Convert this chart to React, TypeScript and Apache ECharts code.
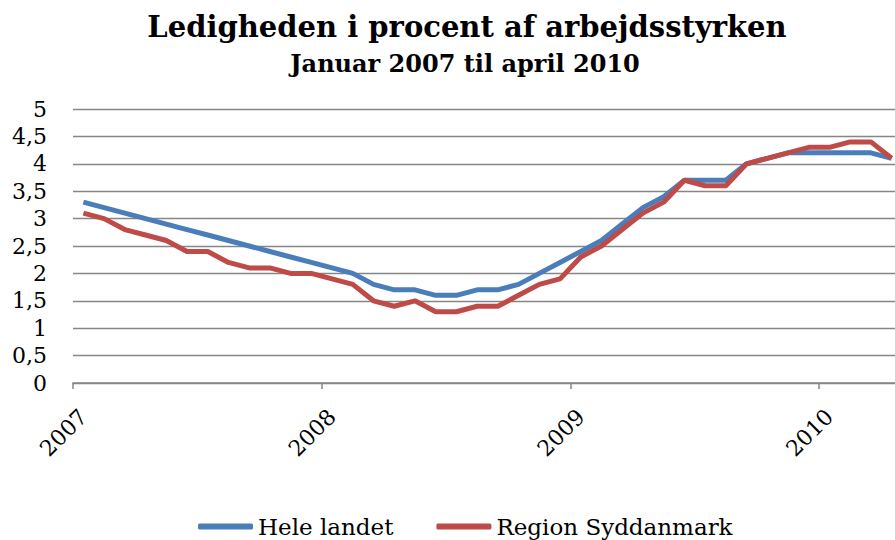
import React, { useEffect, useRef } from "react";
import * as echarts from "echarts";

const years = ["2007", "2008", "2009", "2010"];
const monthsPerYear = ["01", "02", "03", "04", "05", "06", "07", "08", "09", "10", "11", "12"];
const lastMonthIndex = 3; // April 2010

const categories: string[] = [];
years.forEach((y, yi) => {
  monthsPerYear.forEach((m, mi) => {
    if (yi < years.length - 1 || mi <= lastMonthIndex) categories.push(`${y}-${m}`);
  });
});

const heleLandet = [
  3.3, 3.2, 3.1, 3.0, 2.9, 2.8, 2.7, 2.6, 2.5, 2.4, 2.3, 2.2,
  2.1, 2.0, 1.8, 1.7, 1.7, 1.6, 1.6, 1.7, 1.7, 1.8, 2.0, 2.2,
  2.4, 2.6, 2.9, 3.2, 3.4, 3.7, 3.7, 3.7, 4.0, 4.1, 4.2, 4.2,
  4.2, 4.2, 4.2, 4.1,
];

const regionSyddanmark = [
  3.1, 3.0, 2.8, 2.7, 2.6, 2.4, 2.4, 2.2, 2.1, 2.1, 2.0, 2.0,
  1.9, 1.8, 1.5, 1.4, 1.5, 1.3, 1.3, 1.4, 1.4, 1.6, 1.8, 1.9,
  2.3, 2.5, 2.8, 3.1, 3.3, 3.7, 3.6, 3.6, 4.0, 4.1, 4.2, 4.3,
  4.3, 4.4, 4.4, 4.1,
];

const titleText = "Ledigheden i procent af arbejdsstyrken";
const subtitleText = "Januar 2007 til april 2010";
const seriesNames = ["Hele landet", "Region Syddanmark"];

const FONT = "'DejaVu Serif', Georgia, serif";

export default function App() {
  const ref = useRef<HTMLDivElement>(null);

  useEffect(() => {
    if (!ref.current) return;
    const chart = echarts.init(ref.current, undefined, { renderer: "svg" });
    chart.setOption({
      animation: false,
      backgroundColor: "#ffffff",
      title: [
        {
          text: titleText,
          left: 462,
          top: 7,
          textAlign: "center",
          textStyle: { fontFamily: FONT, fontWeight: "bold", fontSize: 29, color: "#000" },
        },
        {
          text: subtitleText,
          left: 460,
          top: 46,
          textAlign: "center",
          textStyle: { fontFamily: FONT, fontWeight: "bold", fontSize: 24, color: "#000" },
        },
      ],
      legend: {
        data: seriesNames,
        left: 193,
        top: 510,
        icon: "roundRect",
        itemWidth: 55,
        itemHeight: 6,
        itemGap: 43,
        textStyle: { fontFamily: FONT, fontSize: 23, color: "#000" },
      },
      grid: { left: 73, right: 0, top: 109, bottom: 157, containLabel: false },
      xAxis: {
        type: "category",
        data: categories,
        boundaryGap: true,
        axisLine: { lineStyle: { color: "#868686", width: 1.5 } },
        axisTick: {
          show: true,
          length: 6,
          interval: (i: number) => i % 12 === 0,
          lineStyle: { color: "#868686", width: 1.5 },
        },
        axisLabel: {
          interval: (i: number) => i % 12 === 0,
          formatter: (v: string) => v.split("-")[0],
          rotate: 45,
          margin: 30,
          fontFamily: FONT,
          fontSize: 22,
          color: "#000",
        },
        splitLine: { show: false },
      },
      yAxis: {
        type: "value",
        min: 0,
        max: 5,
        interval: 0.5,
        axisLine: { show: false },
        axisTick: { show: false },
        axisLabel: {
          margin: 26,
          fontFamily: FONT,
          fontSize: 22,
          color: "#000",
          formatter: (v: number) => String(v).replace(".", ","),
        },
        splitLine: { lineStyle: { color: "#868686", width: 1.3 } },
      },
      series: [
        {
          name: seriesNames[0],
          type: "line",
          data: heleLandet,
          symbol: "none",
          color: "#4A7EBB",
          lineStyle: { width: 5, color: "#4A7EBB" },
        },
        {
          name: seriesNames[1],
          type: "line",
          data: regionSyddanmark,
          symbol: "none",
          color: "#BE4B48",
          lineStyle: { width: 5, color: "#BE4B48" },
        },
      ],
    });
    return () => chart.dispose();
  }, []);

  return (
    <div
      style={{
        position: "fixed",
        left: 0,
        top: 0,
        width: 895,
        height: 540,
        overflow: "hidden",
        background: "#fff",
      }}
    >
      <div ref={ref} style={{ width: 902, height: 540 }} />
    </div>
  );
}
